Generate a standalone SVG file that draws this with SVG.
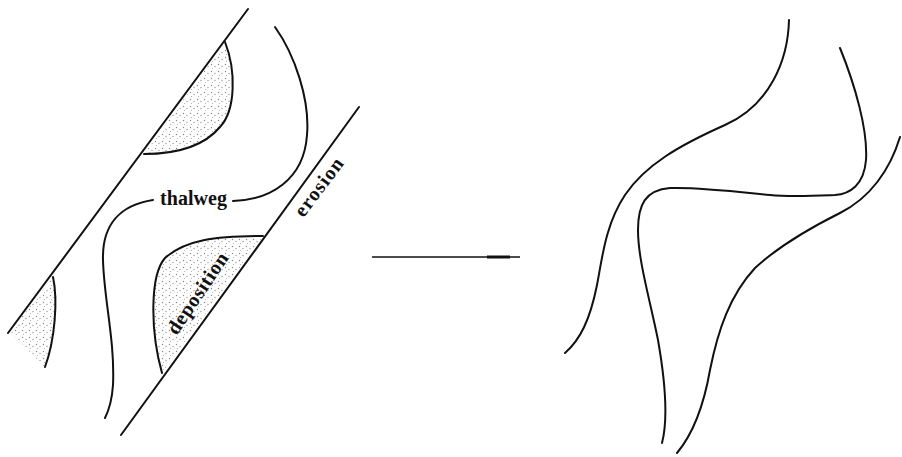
<svg xmlns="http://www.w3.org/2000/svg" width="902" height="457" viewBox="0 0 902 457">
  <style>
    .ln { fill: none; stroke: #111; stroke-width: 2; stroke-linecap: round; }
    .sh { fill: url(#stip); stroke: none; }
    .lbl { font-family: "Liberation Serif", "Times New Roman", serif; font-size: 20px; font-weight: bold; fill: #111; }
  </style>
  <defs>
    <pattern id="stip" width="7" height="7" patternUnits="userSpaceOnUse">
      <rect width="7" height="7" fill="#fff"/>
      <circle cx="1.5" cy="1.5" r="0.7" fill="#888"/>
      <circle cx="5" cy="3.5" r="0.7" fill="#999"/>
      <circle cx="2.5" cy="5.5" r="0.6" fill="#aaa"/>
    </pattern>
  </defs>
  <rect width="902" height="457" fill="#fff"/>

  <g id="before">
    <g id="shading">
      <path class="sh" d="M225,42 C236,70 236,110 220,127 C205,145 180,154 144,154 Z"/>
      <path class="sh" d="M263,236 C215,236 185,240 165,258 C150,275 150,330 162,373 Z"/>
      <path class="sh" d="M53,277 C58,300 55,340 45,367 L30,352 L10,331 Z"/>
    </g>
    <g id="banks">
      <line class="ln" x1="248" y1="9" x2="8" y2="333"/>
      <line class="ln" x1="359" y1="107" x2="121" y2="435"/>
      <path class="ln" d="M225,42 C236,70 236,110 220,127 C205,145 180,154 144,154"/>
      <path class="ln" d="M263,236 C215,236 185,240 165,258 C150,275 150,330 162,373"/>
      <path class="ln" d="M53,277 C58,300 55,340 45,367"/>
    </g>
    <g id="thalweg">
      <path class="ln" d="M275,27 C295,55 310,100 307,135 C304,180 270,200 233,201"/>
      <path class="ln" d="M153,200 C120,205 102,225 103,260 C104,300 115,340 113,385 C112,400 109,410 105,418"/>
    </g>
    <g id="labels">
      <text class="lbl" x="160" y="205" textLength="67" lengthAdjust="spacing">thalweg</text>
      <text class="lbl" transform="translate(324,191) rotate(-53)" text-anchor="middle" textLength="68" lengthAdjust="spacing">erosion</text>
      <text class="lbl" transform="translate(203,297) rotate(-56)" text-anchor="middle" textLength="94" lengthAdjust="spacing">deposition</text>
    </g>
  </g>

  <g id="connectors">
    <line x1="372" y1="257" x2="520" y2="257" stroke="#111" stroke-width="1.6"/>
    <line x1="487" y1="257" x2="510" y2="257" stroke="#111" stroke-width="3"/>
  </g>

  <g id="after">
    <path class="ln" d="M789,20 C788,60 770,105 725,125 C680,145 645,165 625,195 C605,225 602,260 597,285 C590,320 580,340 565,353"/>
    <path class="ln" d="M840,48 C855,85 868,130 866,160 C864,185 850,194 835,195 C810,196 790,197 770,195 C740,192 700,187 670,188 C645,190 638,205 638,230 C638,260 650,300 658,340 C665,380 668,420 662,443"/>
    <path class="ln" d="M900,137 C890,170 870,198 840,213 C810,228 780,245 755,268 C730,295 718,330 710,370 C703,410 692,435 677,453"/>
  </g>
</svg>
